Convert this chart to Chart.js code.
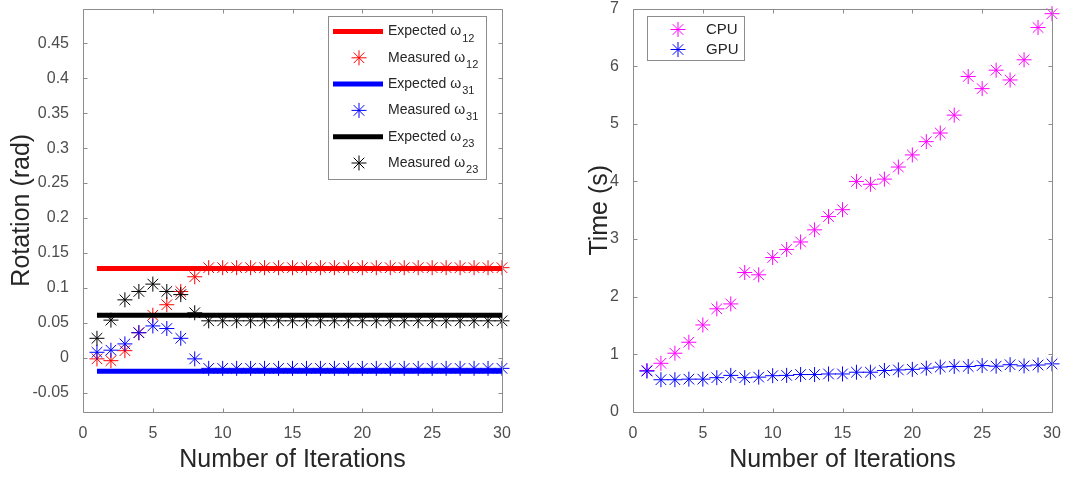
<!DOCTYPE html>
<html>
<head>
<meta charset="utf-8">
<script src="https://cdn.jsdelivr.net/npm/chart.js@4/dist/chart.umd.min.js"></script>
<style>
body { margin: 0; background: #fff; }
#wrap { position: relative; width: 1065px; height: 478px; }
canvas { position: absolute; top: 0; }
</style>
</head>
<body>
<div id="wrap">
  <canvas id="rot" width="530" height="478" style="left:0"></canvas>
  <canvas id="time" width="505" height="478" style="left:560px"></canvas>
</div>
<script>
var iterations = [1,2,3,4,5,6,7,8,9,10,11,12,13,14,15,16,17,18,19,20,21,22,23,24,25,26,27,28,29,30];

// rotation plot
var expected12 = 0.128;
var expected31 = -0.019;
var expected23 = 0.061;
var measured12 = [-0.0014,-0.004,0.0103,0.036,0.061,0.076,0.095,0.116,0.129,0.129,0.129,0.129,0.129,0.129,0.129,0.129,0.129,0.129,0.129,0.129,0.129,0.129,0.129,0.129,0.129,0.129,0.129,0.129,0.129,0.129];
var measured31 = [0.008,0.011,0.020,0.036,0.0457,0.042,0.028,-0.0014,-0.015,-0.015,-0.015,-0.015,-0.015,-0.015,-0.015,-0.015,-0.015,-0.015,-0.015,-0.015,-0.015,-0.015,-0.015,-0.015,-0.015,-0.015,-0.015,-0.015,-0.015,-0.015];
var measured23 = [0.028,0.054,0.083,0.095,0.1055,0.095,0.0905,0.0645,0.053,0.053,0.053,0.053,0.053,0.053,0.053,0.053,0.053,0.053,0.053,0.053,0.053,0.053,0.053,0.053,0.053,0.053,0.053,0.053,0.053,0.053];
var rotNames = ["Expected \u03c9_12", "Measured \u03c9_12", "Expected \u03c9_31", "Measured \u03c9_31", "Expected \u03c9_23", "Measured \u03c9_23"];
var rotTicks = [-0.05,0,0.05,0.1,0.15,0.2,0.25,0.3,0.35,0.4,0.45];

// time plot
var cpuTime = [0.72,0.845,1.02,1.21,1.51,1.79,1.875,2.42,2.38,2.68,2.82,2.95,3.16,3.39,3.51,4.0,3.95,4.04,4.25,4.46,4.69,4.84,5.15,5.82,5.61,5.93,5.76,6.11,6.67,6.91];
var gpuTime = [0.71,0.56,0.56,0.57,0.57,0.595,0.635,0.595,0.605,0.63,0.635,0.65,0.65,0.66,0.66,0.69,0.69,0.72,0.73,0.74,0.76,0.78,0.79,0.79,0.805,0.795,0.82,0.80,0.815,0.835];
var timeNames = ["CPU", "GPU"];
var timeTicks = [0,1,2,3,4,5,6,7];

var iterTicks = [0,5,10,15,20,25,30];

var FONT = '"Liberation Sans", Arial, sans-serif';
var tickColor = "#4d4d4d";
var boxColor = "#8c8c8c";

function lineSet(label, value, color, order) {
    return {
        label: label,
        data: iterations.map(function (x) { return {x: x, y: value}; }),
        showLine: true, borderColor: color, borderWidth: 5,
        pointRadius: 0, order: order, clip: false
    };
}

function starSet(label, values, color, order) {
    return {
        label: label,
        data: iterations.map(function (x, i) { return {x: x, y: values[i]}; }),
        showLine: false, borderColor: color, backgroundColor: color,
        pointStyle: "star", pointRadius: 7.5, pointBorderWidth: 1,
        order: order, clip: false
    };
}

// box round the axes with inward ticks, like matlab
var matlabAxes = {
    id: "matlabAxes",
    afterDatasetsDraw: function (chart) {
        var ctx = chart.ctx, a = chart.chartArea;
        var xs = chart.scales.x, ys = chart.scales.y;
        var l = Math.round(a.left) + 0.5, r = Math.round(a.right) + 0.5;
        var t = Math.round(a.top) + 0.5, b = Math.round(a.bottom) + 0.5;
        ctx.save();
        ctx.strokeStyle = boxColor;
        ctx.lineWidth = 1;
        ctx.beginPath();
        xs.ticks.forEach(function (tk) {
            var px = Math.round(xs.getPixelForValue(tk.value)) + 0.5;
            ctx.moveTo(px, b); ctx.lineTo(px, b - 4);
            ctx.moveTo(px, t); ctx.lineTo(px, t + 4);
        });
        ys.ticks.forEach(function (tk) {
            var py = Math.round(ys.getPixelForValue(tk.value)) + 0.5;
            ctx.moveTo(l, py); ctx.lineTo(l + 4, py);
            ctx.moveTo(r, py); ctx.lineTo(r - 4, py);
        });
        ctx.rect(l, t, r - l, b - t);
        ctx.stroke();
        ctx.restore();
    },
    afterDraw: function (chart) {
        var L = chart.options.plugins.boxLegend;
        if (!L) return;
        var ctx = chart.ctx;
        ctx.save();
        ctx.fillStyle = "#fff";
        ctx.fillRect(L.x, L.y, L.w, L.h);
        ctx.strokeStyle = boxColor;
        ctx.lineWidth = 1;
        ctx.strokeRect(L.x + 0.5, L.y + 0.5, L.w, L.h);
        chart.data.datasets.forEach(function (ds, i) {
            var cy = L.y + L.first + i * L.rowH;
            ctx.strokeStyle = ds.borderColor;
            ctx.fillStyle = ds.borderColor;
            if (ds.showLine) {
                ctx.lineWidth = ds.borderWidth;
                ctx.beginPath();
                ctx.moveTo(L.x + L.line0, cy);
                ctx.lineTo(L.x + L.line1, cy);
                ctx.stroke();
            } else {
                ctx.lineWidth = 1;
                Chart.helpers.drawPoint(ctx, {pointStyle: "star", radius: ds.pointRadius, borderWidth: 1, rotation: 0}, L.x + L.mark, cy);
            }
            var parts = ds.label.split("_");
            ctx.fillStyle = "#262626";
            ctx.textAlign = "left";
            ctx.textBaseline = "middle";
            ctx.font = L.font + "px " + FONT;
            ctx.fillText(parts[0], L.x + L.text, cy);
            if (parts[1]) {
                var w = ctx.measureText(parts[0]).width;
                ctx.font = Math.round(L.font * 0.78) + "px " + FONT;
                ctx.fillText(parts[1], L.x + L.text + w + 1, cy + 7);
            }
        });
        ctx.restore();
    }
};

function axisOpts(ticksArr, min, max, isX, size, title, titlePad, tickPad) {
    return {
        type: "linear", min: min, max: max,
        afterBuildTicks: function (s) { s.ticks = ticksArr.map(function (v) { return {value: v}; }); },
        afterFit: function (s) {
            if (isX) { s.height = size; s.paddingLeft = 0; s.paddingRight = 0; }
            else { s.width = size; s.paddingTop = 0; s.paddingBottom = 0; }
        },
        grid: {display: false},
        border: {display: false},
        ticks: {
            padding: tickPad, color: tickColor, font: {family: FONT, size: 16},
            maxRotation: 0, autoSkip: false,
            callback: function (v) { return String(+Number(v).toFixed(2)); }
        },
        title: {display: true, text: title, color: "#262626", font: {family: FONT, size: 25}, padding: titlePad}
    };
}

new Chart(document.getElementById("rot"), {
    type: "scatter",
    data: {
        datasets: [
            lineSet(rotNames[0], expected12, "#ff0000", 6),
            starSet(rotNames[1], measured12, "#ff0000", 5),
            lineSet(rotNames[2], expected31, "#0000ff", 4),
            starSet(rotNames[3], measured31, "#0000ff", 3),
            lineSet(rotNames[4], expected23, "#000000", 2),
            starSet(rotNames[5], measured23, "#000000", 1)
        ]
    },
    options: {
        responsive: false, animation: false, events: [],
        layout: {padding: {top: 4, right: 28, left: 0, bottom: 0}},
        plugins: {
            legend: {display: false}, tooltip: {enabled: false},
            boxLegend: {x: 328, y: 16, w: 158, h: 163, first: 15.5, rowH: 26.3, line0: 5, line1: 55, mark: 31, text: 60, font: 14}
        },
        scales: {
            x: axisOpts(iterTicks, 0, 30, true, 66, "Number of Iterations", {top: 0, bottom: 3}, 4),
            y: axisOpts(rotTicks, -0.0774, 0.4997, false, 83, "Rotation (rad)", {top: 7, bottom: 0}, 6)
        }
    },
    plugins: [matlabAxes]
});

new Chart(document.getElementById("time"), {
    type: "scatter",
    data: {
        datasets: [
            starSet(timeNames[0], cpuTime, "#ff00ff", 2),
            starSet(timeNames[1], gpuTime, "#0000ff", 1)
        ]
    },
    options: {
        responsive: false, animation: false, events: [],
        layout: {padding: {top: 4, right: 13, left: 0, bottom: 0}},
        plugins: {
            legend: {display: false}, tooltip: {enabled: false},
            boxLegend: {x: 87, y: 16, w: 97, h: 44, first: 13.5, rowH: 20, line0: 5, line1: 55, mark: 31, text: 59, font: 15}
        },
        scales: {
            x: axisOpts(iterTicks, 0, 30, true, 66, "Number of Iterations", {top: 0, bottom: 3}, 4),
            y: axisOpts(timeTicks, 0, 7, false, 73, "Time (s)", {top: 25, bottom: 0}, 6)
        }
    },
    plugins: [matlabAxes]
});
</script>
</body>
</html>
